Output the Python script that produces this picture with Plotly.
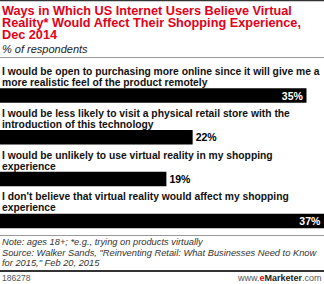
import plotly.graph_objects as go

categories = [
    ["I would be open to purchasing more online since it will give me a",
     "more realistic feel of the product remotely"],
    ["I would be less likely to visit a physical retail store with the",
     "introduction of this technology"],
    ["I would be unlikely to use virtual reality in my shopping",
     "experience"],
    ["I don't believe that virtual reality would affect my shopping",
     "experience"],
]
values = [35, 22, 19, 37]
value_labels = ["35%", "22%", "19%", "37%"]

title_lines = [
    "Ways in Which US Internet Users Believe Virtual",
    "Reality* Would Affect Their Shopping Experience,",
    "Dec 2014",
]
subtitle = "% of respondents"
footer_lines = [
    "Note: ages 18+; *e.g., trying on products virtually",
    "Source: Walker Sands, \"Reinventing Retail: What Businesses Need to Know",
    "for 2015,\" Feb 20, 2015",
]
chart_id = "186278"

W, H = 324, 284
def py(p):
    return 1 - p / H

positions = list(range(len(values)))
text_pos = ["inside" if v >= 30 else "outside" for v in values]
text_col = ["white" if v >= 30 else "black" for v in values]

SP = 41.8
fig = go.Figure()
fig.add_trace(go.Bar(
    x=values, y=positions, orientation="h",
    marker=dict(color="black", line=dict(width=0)),
    width=14.5 / SP,
    text=value_labels, textposition=text_pos, insidetextanchor="end",
    textfont=dict(family="Liberation Sans", size=10.5, color=text_col, weight="bold"),
    textangle=0, constraintext="none",
    cliponaxis=False, hoverinfo="skip",
))

ymin = -95.5 / SP
ymax = ymin + H / SP

annotations = []
for i, lines in enumerate(categories):
    for j, ln in enumerate(lines):
        annotations.append(dict(
            xref="paper", yref="y", x=0, y=i, yshift=24 - 11 * j,
            xanchor="left", yanchor="middle", align="left", showarrow=False,
            text=ln,
            font=dict(family="Liberation Sans", size=10.3, color="#111111", weight="bold"),
        ))

for j, ln in enumerate(title_lines):
    annotations.append(dict(
        xref="paper", yref="paper", x=0, y=py(10.5 + 12.3 * j), xanchor="left", yanchor="middle",
        showarrow=False, text=ln,
        font=dict(family="Liberation Sans", size=12.7, color="#e2001a", weight="bold"),
    ))
annotations.append(dict(
    xref="paper", yref="paper", x=0, y=py(48.5), xanchor="left", yanchor="middle",
    showarrow=False, text=subtitle,
    font=dict(family="Liberation Sans", size=11, color="#222222", style="italic"),
))
for j, ln in enumerate(footer_lines):
    annotations.append(dict(
        xref="paper", yref="paper", x=0, y=py(242 + 10.5 * j), xanchor="left", yanchor="middle",
        showarrow=False, text=ln,
        font=dict(family="Liberation Sans", size=9.3, color="#333333", style="italic"),
    ))
annotations.append(dict(
    xref="paper", yref="paper", x=0, y=py(278), xanchor="left", yanchor="middle",
    showarrow=False, text=chart_id,
    font=dict(family="Liberation Sans", size=8.5, color="#555555"),
))
annotations.append(dict(
    xref="paper", yref="paper", x=1, y=py(278), xanchor="right", yanchor="middle",
    showarrow=False,
    text="<span style='color:#555555'>www.</span><b><span style='color:#e2001a'>e</span><span style='color:#222222'>Marketer</span></b><span style='color:#555555'>.com</span>",
    font=dict(family="Liberation Sans", size=9, color="#555555"),
))

shapes = [
    dict(type="line", xref="paper", yref="paper", x0=0, x1=1, y0=py(0.5), y1=py(0.5), line=dict(color="#333333", width=1.5)),
    dict(type="line", xref="paper", yref="paper", x0=0, x1=1, y0=py(57.5), y1=py(57.5), line=dict(color="#999999", width=1)),
    dict(type="line", xref="paper", yref="paper", x0=0, x1=1, y0=py(235.5), y1=py(235.5), line=dict(color="#999999", width=1)),
    dict(type="line", xref="paper", yref="paper", x0=0, x1=1, y0=py(271), y1=py(271), line=dict(color="#333333", width=2)),
]

fig.update_layout(
    width=W, height=H, margin=dict(l=0, r=0, t=0, b=0),
    paper_bgcolor="white", plot_bgcolor="white",
    showlegend=False,
    xaxis=dict(range=[0, 37], domain=[0, 1], visible=False, fixedrange=True),
    yaxis=dict(range=[ymax, ymin], domain=[0, 1], visible=False, fixedrange=True),
    annotations=annotations, shapes=shapes,
)

fig.write_html("out.html", config={"displayModeBar": False})
